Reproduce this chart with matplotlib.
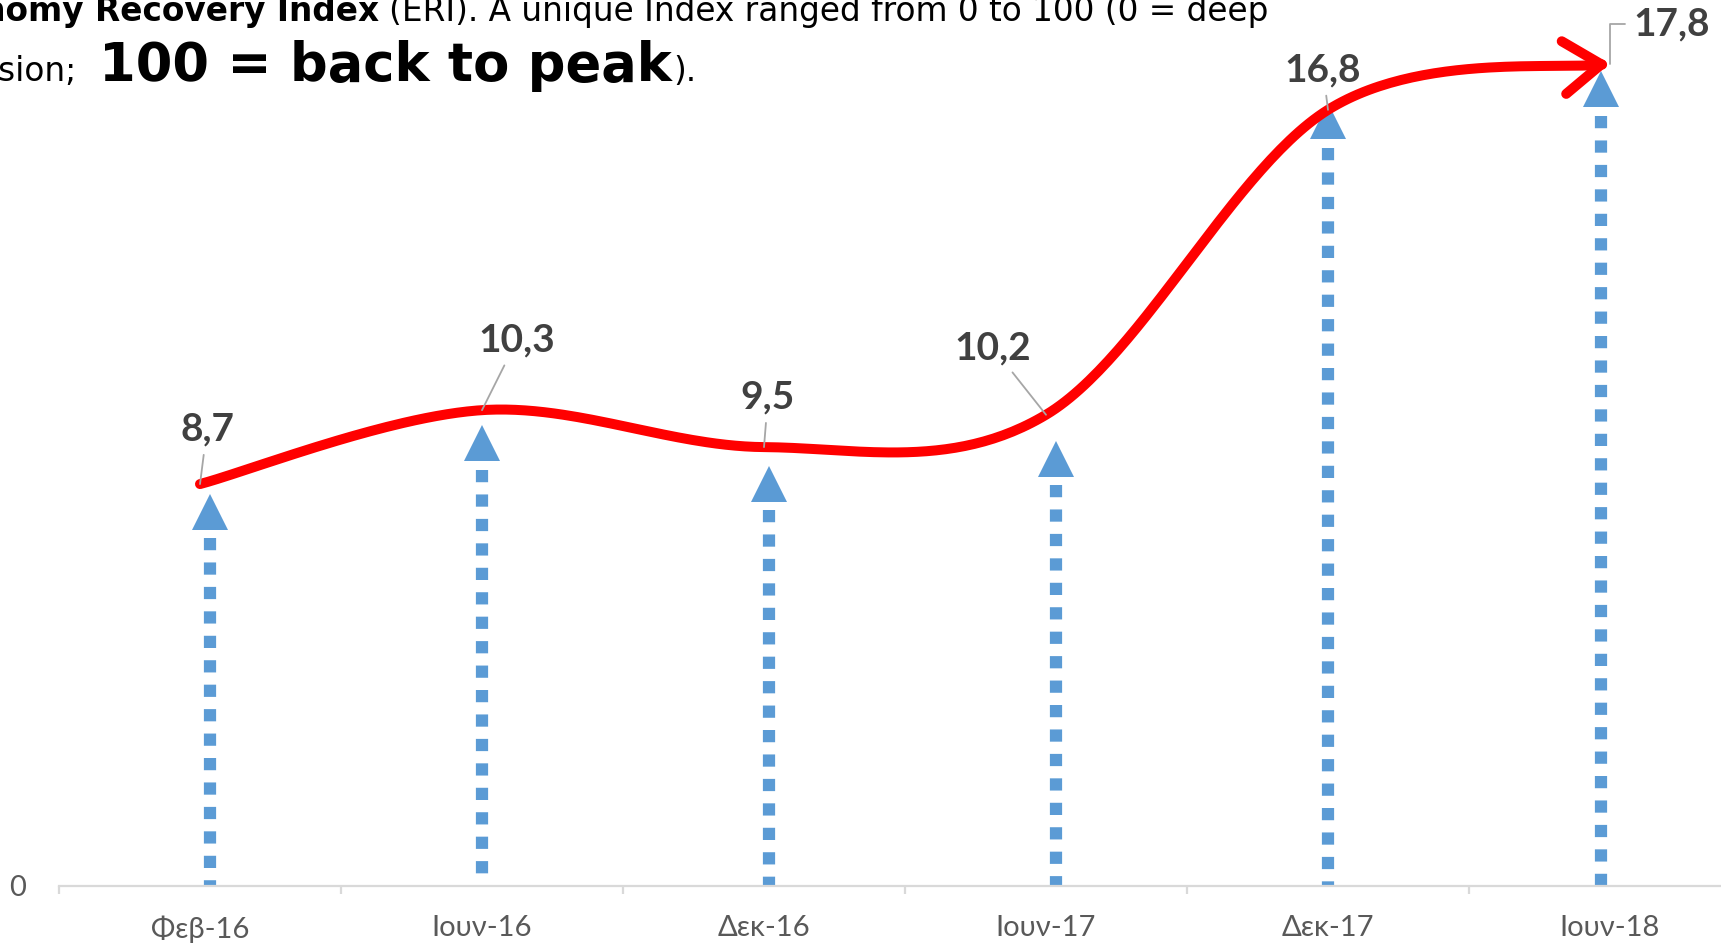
import numpy as np
import matplotlib
matplotlib.use("Agg")
import matplotlib.pyplot as plt

# data
months = ["Φεβ-16", "Ιουν-16", "Δεκ-16", "Ιουν-17", "Δεκ-17", "Ιουν-18"]
eri = [8.7, 10.3, 9.5, 10.2, 16.8, 17.8]
eri_labels = ["8,7", "10,3", "9,5", "10,2", "16,8", "17,8"]
arrow_tops = [8.48, 9.96, 9.09, 9.63, 16.93, 17.62]

# styling / placement
arrow_shift = [0.035, 0.0, 0.016, 0.035, 0.0, -0.031]
label_off = [(7, 55), (35, 70), (4, 50), (-53, 67), (-5, 40), (62, 40)]
RED = "#FF0000"
BLUE = "#5B9BD5"
W, H = 1721, 944
YMAX = 20.0


def catmull_rom(xs, ys, n=60):
    # Excel-style smoothed line (duplicated end points)
    px = np.r_[xs[0], xs, xs[-1]]
    py = np.r_[ys[0], ys, ys[-1]]
    out_x, out_y = [], []
    for i in range(1, len(px) - 2):
        t = np.linspace(0, 1, n)
        for arr, out in ((px, out_x), (py, out_y)):
            p0, p1, p2, p3 = arr[i - 1], arr[i], arr[i + 1], arr[i + 2]
            c1 = p1 + (p2 - p0) / 6.0
            c2 = p2 - (p3 - p1) / 6.0
            b = ((1 - t) ** 3 * p1 + 3 * (1 - t) ** 2 * t * c1
                 + 3 * (1 - t) * t ** 2 * c2 + t ** 3 * p2)
            out.extend(b if i == 1 else b[1:])
    return np.array(out_x), np.array(out_y)


fig = plt.figure(figsize=(W / 100, H / 100), dpi=100)
ax = fig.add_axes([59 / W, 58 / H, 1692 / W, 924 / H])
ax.set_xlim(-0.5, 5.5)
ax.set_ylim(0, YMAX)
px_per_unit = 924 / YMAX

x = np.arange(len(months))

# blue dotted arrows
tri_h = 35 / px_per_unit
for xi, top, sh in zip(x, arrow_tops, arrow_shift):
    xx = xi + sh
    ax.plot([xx, xx], [top - tri_h - 9 / px_per_unit, 0], color=BLUE, lw=8.8,
            linestyle=(0, (1.0, 1.0)), solid_capstyle="butt",
            dash_capstyle="butt", zorder=2, clip_on=False)
    ax.plot([xx], [top - tri_h / 2], marker="^", ms=25.5, color=BLUE,
            markeredgewidth=0, zorder=3, clip_on=False)

# red smoothed curve with open arrow head
cx, cy = catmull_rom(x.astype(float), np.array(eri, float))
ax.plot(cx[:-3], cy[:-3], color=RED, lw=7.2, solid_capstyle="round", zorder=4,
        clip_on=False)
ax.annotate("", xy=(cx[-1], cy[-1]), xytext=(cx[-8], cy[-8]),
            arrowprops=dict(arrowstyle="->,head_length=27,head_width=19",
                            mutation_scale=1, lw=7.2, color=RED,
                            shrinkA=0, shrinkB=0, capstyle="round",
                            joinstyle="round"),
            zorder=5, annotation_clip=False)

# data labels with leader lines
for i, (xi, v, lab, (dx, dy)) in enumerate(zip(x, eri, eri_labels, label_off)):
    conn = "arc3"
    if i == len(eri) - 1:
        conn = "angle,angleA=0,angleB=90,rad=0"
    ax.annotate(lab, xy=(xi, v), xytext=(dx, dy), textcoords="offset pixels",
                ha="center", va="center", fontsize=28, fontweight="bold",
                color="#404040", family=["Lato", "DejaVu Sans"],
                arrowprops=dict(arrowstyle="-", color="#A6A6A6", lw=1.3,
                                shrinkA=4, shrinkB=0, connectionstyle=conn),
                zorder=6, annotation_clip=False)

# axes styling
for s in ("top", "right", "left"):
    ax.spines[s].set_visible(False)
ax.spines["bottom"].set_color("#D9D9D9")
ax.spines["bottom"].set_linewidth(1.6)
ax.set_xticks(x)
ax.set_xticklabels(months, family=["Lato", "Open Sans"], fontsize=21,
                   color="#595959")
ax.set_xticks(np.arange(-0.5, 6.0, 1.0), minor=True)
ax.tick_params(axis="x", which="major", length=0, pad=21)
ax.tick_params(axis="x", which="minor", length=6, width=1.6, color="#D9D9D9")
ax.set_yticks([0])
ax.set_yticklabels(["0"], family=["Lato", "Open Sans"], fontsize=21,
                   color="#595959")
ax.tick_params(axis="y", length=0, pad=24)
ax.patch.set_alpha(0)

# heading text (partly outside the visible frame, as in the source slide)
r = fig.canvas.get_renderer()
y1 = H - 21
t = fig.text(1268 / W, y1 / H,
             "(ERI). A unique Index ranged from 0 to 100 (0 = deep",
             ha="right", va="baseline", fontsize=23.6, family="DejaVu Sans")
left = t.get_window_extent(r).x0
fig.text((left - 10) / W, y1 / H, "Economy Recovery Index", ha="right",
         va="baseline", fontsize=23.6, fontweight="bold", family="DejaVu Sans")

y2 = H - 81
big = fig.text(99 / W, y2 / H, "100 = back to peak", ha="left",
               va="baseline", fontsize=38, fontweight="bold",
               family="DejaVu Sans")
fig.text(76 / W, y2 / H, "recession;", ha="right", va="baseline",
         fontsize=23.6, family="DejaVu Sans")
right = big.get_window_extent(r).x1
fig.text((right + 2) / W, y2 / H, ").", ha="left", va="baseline",
         fontsize=23.6, family="DejaVu Sans")

fig.savefig("out.png", dpi=100)
